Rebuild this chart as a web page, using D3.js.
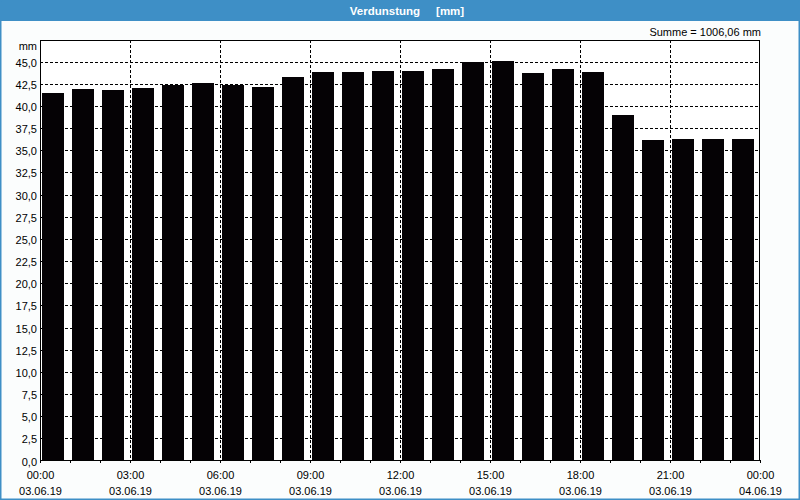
<!DOCTYPE html>
<html><head><meta charset="utf-8">
<script src="https://cdn.jsdelivr.net/npm/d3@7"></script>
<style>
html,body{margin:0;padding:0;background:#fff;}
svg text{font-family:"Liberation Sans",Arial,sans-serif;}
</style></head>
<body>
<svg id="c" width="800" height="500"></svg>
<script>
const title = "Verdunstung\u00a0\u00a0\u00a0\u00a0\u00a0[mm]";
const unit = "mm";
const hours = d3.range(24);
const values = [41.49, 41.95, 41.83, 42.06, 42.40, 42.62, 42.40, 42.17,
                43.30, 43.86, 43.86, 43.98, 43.98, 44.20, 45.00, 45.11,
                43.75, 44.20, 43.86, 39.01, 36.13, 36.30, 36.30, 36.30];
const yTicks = d3.range(0, 45.01, 2.5);
const xTickHours = [0, 3, 6, 9, 12, 15, 18, 21, 24];
const xTickTimes = ["00:00","03:00","06:00","09:00","12:00","15:00","18:00","21:00","00:00"];
const xTickDates = ["03.06.19","03.06.19","03.06.19","03.06.19","03.06.19","03.06.19","03.06.19","03.06.19","04.06.19"];

const svg = d3.select("#c");
const L = 40, R = 760, T = 40, B = 460;
const x = d3.scaleLinear().domain([0, 24]).range([L, R]);
const y = d3.scaleLinear().domain([0, 47.5]).range([B + 0.5, 39.5]);

svg.append("rect").attr("x",0).attr("y",0).attr("width",800).attr("height",500).attr("fill","#fbfdfd");
svg.append("rect").attr("x",0).attr("y",0).attr("width",800).attr("height",21).attr("fill","#3e8fc6");
svg.append("rect").attr("x",0.5).attr("y",0.5).attr("width",799).attr("height",499)
  .attr("fill","none").attr("stroke","#3e8fc6").attr("stroke-width",2);
svg.append("text").attr("x",407).attr("y",14.5).attr("text-anchor","middle")
  .attr("fill","#fff").attr("font-weight","bold").attr("font-size",11.5).text(title);

svg.append("rect").attr("x",L).attr("y",T).attr("width",R-L).attr("height",B-T).attr("fill","#fff");

const g = svg.append("g").attr("shape-rendering","crispEdges");
g.selectAll("line.hg").data(yTicks.filter(d=>d>0)).join("line").attr("class","hg")
  .attr("x1",L).attr("x2",R).attr("y1",d=>Math.round(y(d))+0.5).attr("y2",d=>Math.round(y(d))+0.5)
  .attr("stroke","#000").attr("stroke-dasharray","3,2");
g.selectAll("line.vg").data(xTickHours.filter(d=>d>0&&d<24)).join("line").attr("class","vg")
  .attr("x1",d=>x(d)+0.5).attr("x2",d=>x(d)+0.5).attr("y1",T).attr("y2",B)
  .attr("stroke","#000").attr("stroke-dasharray","3,2");

g.selectAll("rect.bar").data(values).join("rect").attr("class","bar")
  .attr("x",(d,i)=>x(hours[i])+2).attr("width",22)
  .attr("y",d=>Math.round(y(d))).attr("height",d=>B-Math.round(y(d)))
  .attr("fill","#050205");

g.append("rect").attr("x",L+0.5).attr("y",T+0.5).attr("width",R-L-1).attr("height",B-T)
  .attr("fill","none").attr("stroke","#000");

g.selectAll("line.mt").data(d3.range(0,25)).join("line").attr("class","mt")
  .attr("x1",d=>x(d)+0.5).attr("x2",d=>x(d)+0.5).attr("y1",B).attr("y2",B+3)
  .attr("stroke","#000");

svg.selectAll("text.yl").data(yTicks).join("text").attr("class","yl")
  .attr("x",37).attr("y",d=>Math.round(y(d))+4.5).attr("text-anchor","end")
  .attr("font-size",11).attr("fill","#000")
  .text(d=>d.toFixed(1).replace(".",","));
svg.append("text").attr("x",37).attr("y",50).attr("text-anchor","end")
  .attr("font-size",11).attr("fill","#000").text(unit);

svg.selectAll("text.xt").data(xTickHours).join("text").attr("class","xt")
  .attr("x",d=>x(d)+0.5).attr("y",479).attr("text-anchor","middle")
  .attr("font-size",11).attr("fill","#000").text((d,i)=>xTickTimes[i]);
svg.selectAll("text.xd").data(xTickHours).join("text").attr("class","xd")
  .attr("x",d=>x(d)+0.5).attr("y",495).attr("text-anchor","middle")
  .attr("font-size",11).attr("fill","#000").text((d,i)=>xTickDates[i]);

const total = d3.sum(values);
svg.append("text").attr("x",761).attr("y",36).attr("text-anchor","end")
  .attr("font-size",11).attr("fill","#000")
  .text("Summe = " + total.toFixed(2).replace(".",",") + " mm");
</script>
</body></html>
